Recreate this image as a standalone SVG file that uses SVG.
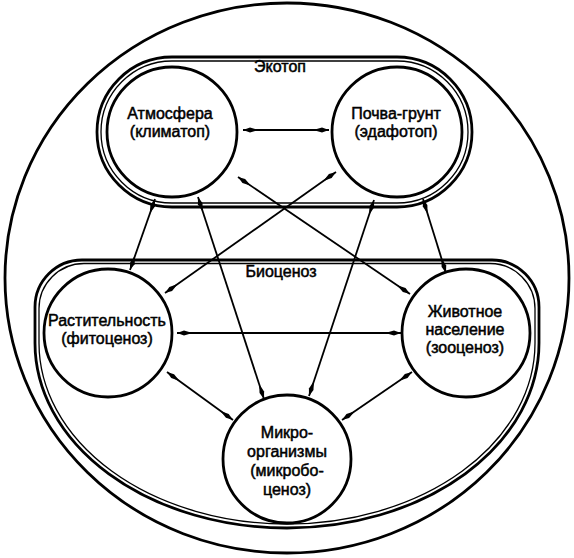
<svg xmlns="http://www.w3.org/2000/svg" width="574" height="558" viewBox="0 0 574 558">
<style>
.ring{fill:none;stroke:#000;stroke-width:2.8}
.ring2{fill:none;stroke:#000;stroke-width:1.3}
.node{fill:#fff;stroke:#000;stroke-width:2.8}
.lbl{font-family:"Liberation Sans",Arial,sans-serif;font-size:16px;fill:#000;stroke:#000;stroke-width:0.5;text-anchor:middle}
.conn line{stroke:#000;stroke-width:1.8;marker-start:url(#ah);marker-end:url(#ah)}
</style>
<defs>
<marker id="ah" markerUnits="userSpaceOnUse" markerWidth="16" markerHeight="7" viewBox="0 0 16 7" refX="15.5" refY="3.5" orient="auto-start-reverse">
<path d="M15.5,3.5 L8.5,1.1 L0,3.5 L8.5,5.9 Z" fill="#000"/>
</marker>
</defs>
<rect width="574" height="558" fill="#fff"/>
<g id="ecosystem">
<ellipse cx="287" cy="278" rx="282" ry="275" class="ring"/>
</g>
<g id="ecotop">
<rect x="97" y="57" width="375" height="150" rx="75" ry="75" class="ring"/>
<rect x="101" y="61" width="367" height="142" rx="71" ry="71" class="ring2"/>
<text x="280" y="72" class="lbl">Экотоп</text>
</g>
<g id="biocenosis">
<path d="M82,260 H492 A47,47 0 0 1 539,307 V343 A252,185 0 0 1 35,343 V307 A47,47 0 0 1 82,260 Z" class="ring"/>
<path d="M84,263.5 H490 A45,45 0 0 1 535,308.5 V343 A248,181 0 0 1 39,343 V308.5 A45,45 0 0 1 84,263.5 Z" class="ring2"/>
<text x="281" y="277" class="lbl">Биоценоз</text>
</g>
<g id="connectors" class="conn">
<line x1="243" y1="130" x2="329" y2="130"/>
<line x1="177" y1="333" x2="401" y2="333"/>
<line x1="155" y1="199" x2="130" y2="270"/>
<line x1="198" y1="197" x2="264" y2="399"/>
<line x1="238" y1="177" x2="410" y2="294"/>
<line x1="336" y1="172" x2="165" y2="293"/>
<line x1="374" y1="200" x2="309" y2="396"/>
<line x1="423" y1="199" x2="446" y2="273"/>
<line x1="167" y1="372" x2="233" y2="420"/>
<line x1="412" y1="372" x2="342" y2="420"/>
</g>
<g id="atmosphere">
<circle cx="172" cy="132" r="65" class="node"/>
<text x="170" y="119" class="lbl">Атмосфера</text>
<text x="170" y="137" class="lbl">(климатоп)</text>
</g>
<g id="soil">
<circle cx="397" cy="132" r="65" class="node"/>
<text x="396" y="119" class="lbl">Почва-грунт</text>
<text x="396" y="137" class="lbl">(эдафотоп)</text>
</g>
<g id="vegetation">
<circle cx="108" cy="333" r="64" class="node"/>
<text x="107" y="326" class="lbl">Растительность</text>
<text x="107" y="344" class="lbl">(фитоценоз)</text>
</g>
<g id="animals">
<circle cx="466" cy="333" r="64" class="node"/>
<text x="465" y="317" class="lbl">Животное</text>
<text x="465" y="335" class="lbl">население</text>
<text x="465" y="353" class="lbl">(зооценоз)</text>
</g>
<g id="microorganisms">
<circle cx="287" cy="459" r="64" class="node"/>
<text x="287" y="438" class="lbl">Микро-</text>
<text x="287" y="457" class="lbl">организмы</text>
<text x="287" y="476" class="lbl">(микробо-</text>
<text x="287" y="495" class="lbl">ценоз)</text>
</g>
</svg>
